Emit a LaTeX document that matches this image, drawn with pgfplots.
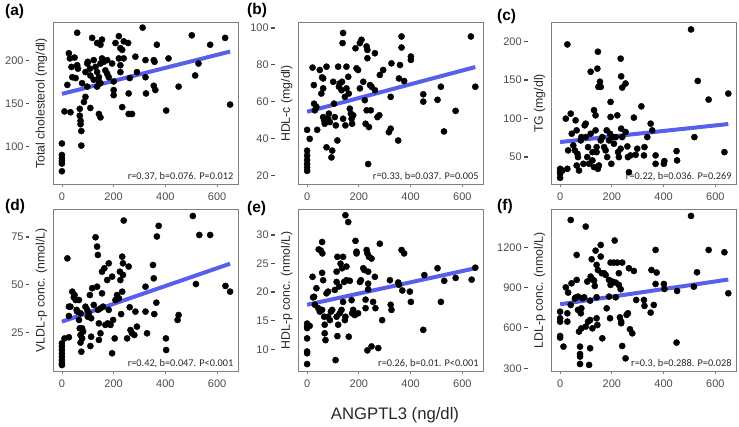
\documentclass[border=0pt]{standalone}
\usepackage{fontspec}
\setmainfont{Liberation Sans}
\newfontfamily\calib{Carlito}
\usepackage{pgfplots}
\pgfplotsset{compat=1.18}
\definecolor{boxgray}{RGB}{128,128,128}
\definecolor{ticktext}{RGB}{77,77,77}
\definecolor{labtext}{RGB}{40,40,40}
\definecolor{fitblue}{RGB}{88,96,235}
\pgfplotsset{
 panel/.style={
  scale only axis, width=185pt, height=162pt, anchor=north west,
  xmin=-32.5, xmax=682.5, xtick={0,200,400,600},
  axis line style={boxgray, line width=0.8pt},
  tick style={boxgray, line width=0.8pt},
  tick align=outside, major tick length=3pt,
  ytick style={draw=none},
  xtick pos=bottom, ytick pos=left,
  tick label style={font=\fontsize{11}{13}\selectfont, text=ticktext},
  /pgf/number format/assume math mode=true,
  /pgf/number format/set thousands separator={},
  scaled y ticks=false,
  xticklabel style={inner sep=0pt, anchor=north, yshift=-5.5pt},
  yticklabel style={inner sep=0pt, anchor=east, xshift=-21pt},
  yticklabel={\pgfmathprintnumber{\tick}\hspace{2.5pt}\rule[3.3pt]{3.3pt}{1.2pt}},
  every axis y label/.style={at={([xshift=-12pt]axis description cs:0,0.5)}, rotate=90, anchor=center, font=\fontsize{12.3}{14}\selectfont, text=labtext},
 },
 pts/.style={only marks, mark=*, mark size=3.1pt, draw=none, fill=black, mark options={draw=none, fill=black}},
 fit/.style={fitblue, line width=4pt, no marks},
}
\tikzset{
 stat/.style={anchor=south east, inner sep=0pt, xshift=-5pt, yshift=3pt, font=\calib\fontsize{10.3}{12}\selectfont, text=labtext},
 plab/.style={anchor=north west, inner sep=0pt, font=\bfseries\fontsize{15.5}{17}\selectfont},
}
\begin{document}
\begin{tikzpicture}
\path[use as bounding box] (0,0) rectangle (739pt,-427pt);
% (a)
\begin{axis}[panel, at={(53.5pt,-22.5pt)}, ymin=55.5, ymax=245, ytick={100,150,200}, ylabel={Total cholesterol (mg/dl)}]
\addplot[pts] coordinates {(0,103.5)(0,90)(0,86)(0,83)(0,80)(0,71)
(10,141)(21,172)(27,209)(31,203)(33,140)(37,193)(49,204)(59,233)(40,181)(53,180)(59,195)(62,191)(69,144)(69,136)(72,130)(72,126)(75,118)(75,101)(78,174)(85,152)(91,158)(98,170)(91,187)(98,197)(100,199)(110,183)(108,191)(117,227)(136,221)(110,145)(123,201)(130,193)(136,187)(123,178)(143,181)(136,170)(149,197)(143,176)(149,174)(155,203)(149,219)(155,225)(143,138)(149,134)(162,199)(168,189)(175,201)(175,185)(181,181)(194,197)(200,176)(200,166)(200,160)(207,221)(220,229)(220,203)(226,215)(233,213)(239,203)(226,195)(226,187)(239,223)(233,146)(258,138)(271,138)(256,221)(262,180)(258,162)(284,205)(290,187)(312,239)(323,201)(323,181)(325,162)(355,201)(367,219)(358,199)(361,166)(355,171)(403,142)(412,203)(451,170)(502,230)(528,197)(515,183)(573,219)(631,227)(650,149)};
\addplot[fit] coordinates {(0,161.5)(650,211)};
\node[stat] at (rel axis cs:1,0) {r=0.37, b=0.076. P=0.012};
\end{axis}
% (b)
\begin{axis}[panel, at={(298.7pt,-22.5pt)}, ymin=15, ymax=103, ytick={20,40,60,80,100}, ylabel={HDL-c (mg/dl)}]
\addplot[pts] coordinates {(0,44.7)(0,33.4)(0,30.7)(0,28.3)(0,26.1)(0,24.3)(0,22.4)(10,39.8)
(21,78.5)(26,69)(27,58.9)(30,55.3)(36,57.1)(39,44.7)(49,77.2)(55,64.4)(58,73.2)(62,72.6)(62,67.2)(62,51.6)(66,49.8)(68,48)
(75,79)(75,35.2)(81,50.7)(84,53.5)(88,48.9)(94,29.7)(97,33.4)(101,70.8)(104,58.9)(107,51.6)(111,47.1)(117,38.9)(120,79)(123,68.1)(126,69.9)
(133,66.2)(135,70.8)(139,97.3)(137,91.8)(139,50.7)(146,62.6)(148,47.1)(152,67.2)(152,79)(159,73.5)(161,64.4)(165,56.2)(169,53.5)(172,50.7)(174,48)(178,52.6)
(187,89)(191,78.1)(197,77.2)(204,67.2)(204,91.8)(210,93.6)(217,70.8)(223,60.8)(226,48)(230,90)(233,88.1)(233,83.6)(236,26.1)(230,55.3)(239,46.2)
(243,69)(246,55.3)(249,68.1)(262,86.3)(262,66.2)(272,51.6)(279,52.6)(281,74.5)(294,77.2)(316,43.4)(323,62.6)(326,80.8)(323,45.3)
(352,38.9)(355,72.6)(359,79.9)(365,95.4)(365,89.4)(375,71.2)(401,84.5)(401,82.7)(449,64)(449,60)(504,61)(517,68.1)(529,43.8)(574,55)(633,95.4)(650,68.1)};
\addplot[fit] coordinates {(0,54.5)(650,78.8)};
\node[stat] at (rel axis cs:1,0) {r\raisebox{1.5pt}{=}0.33, b=0.037. P=0.005};
\end{axis}
% (c)
\begin{axis}[panel, at={(551.7pt,-22.5pt)}, ymin=14.4, ymax=225, ytick={50,100,150,200}, ylabel={TG (mg/dl)}]
\addplot[pts] coordinates {(0,34.8)(0,31.7)(0,28.3)(0,23)(9,32.6)(22,100)(28,196.5)(28,34.8)(31,58.7)(41,106.5)(45,80.4)(51,65.2)(57,58.7)(60,97.8)(64,84.8)(67,54.3)(69,50)(64,39.1)(73,32.6)
(80,71.7)(82,76)(90,41.3)(99,76)(95,91.3)(99,93.5)(105,50)(112,41.3)(108,63)
(118,80.4)(118,161)(125,56.5)(125,45.7)(131,37)(131,111)(137,104.3)(137,84.8)(141,56.5)(141,63)
(144,165)(146,187)(146,34.8)(150,39.1)(148,141.3)(154,148)(157,141.3)(157,71.7)(163,76)(170,63)
(176,58.7)(180,84.8)(182,50)(189,71.7)(193,80.4)(195,121.7)(195,102.2)(198,41.3)(202,76)
(208,67.4)(215,76)(221,104.3)(224,56.5)(227,50)
(234,178)(236,155)(236,87)(240,140.4)(240,76)(234,60.9)(253,145.7)(253,82.6)(260,63.9)(262,50)(266,30.4)
(272,52.2)(285,101.3)(292,53)(298,60.9)(314,116)(324,52.2)(326,63)(337,76)(350,93.5)(356,84.8)(369,52.2)(369,41.3)(401,41.3)(403,44.8)(450,57.8)(452,45.7)
(506,216)(519,76)(532,149)(574,124.8)(635,56.5)(650,132.6)};
\addplot[fit] coordinates {(0,69.6)(650,93)};
\node[stat] at (rel axis cs:1,0) {r=0.22, b=0.036. P=0.269};
\end{axis}
% (d)
\begin{axis}[panel, at={(53.5pt,-209.5pt)}, ymin=4.4, ymax=89.6, ytick={25,50,75}, ylabel={VLDL-p conc. (nmol/L)}]
\addplot[pts] coordinates {(0,19.2)(0,17.5)(0,15.7)(0,14)(0,12.2)(0,10.4)(0,8.7)(0,7.8)
(10,21.8)(21,63.9)(27,38.5)(27,22.4)(27,33.6)(33,38.5)(40,46.4)(46,43.4)(49,44.6)(53,42)(57,36.8)(59,35.9)
(66,42)(66,31.5)(69,27.1)(72,23.6)(72,19.6)(75,14.8)(72,35)(78,27.1)(78,21.8)(82,25.4)
(91,38.5)(98,36.8)(100,33.2)(104,35)(108,44.6)(110,17.8)(113,22.7)(117,48.2)(113,32.4)
(123,39.4)(130,75)(136,70.1)(139,65.7)(136,49)(139,36.8)(143,29.7)(143,21)(149,24.5)(149,37.6)(155,45.5)(155,56.9)(159,38.5)
(164,58.7)(168,28.9)(175,52.5)(177,29.7)(181,61.3)(181,36.8)(188,28.9)(194,54.3)(198,31.5)(194,14)(204,21.8)
(207,42)(213,44.6)(220,42.9)(224,56.9)(226,52.5)(229,34.6)(233,64.8)(236,61.3)(239,83.8)(233,46.4)(236,55.2)
(252,21.8)(258,59.6)(262,38.2)(265,26.2)(271,24.5)(280,23.6)(290,28)(284,35.9)
(323,49)(323,35.9)(329,24.5)(352,60.4)(355,53.4)(357,34.6)(365,40.6)(367,75.4)(374,81)
(402,21.8)(403,15.7)(447,31.5)(451,34.1)(506,86.2)(518,50.4)(531,76.2)(573,76.2)(632,49.4)(650,46.4)};
\addplot[fit] coordinates {(0,30.6)(650,61.1)};
\node[stat] at (rel axis cs:1,0) {r=0.42, b=0.047. P<0.001};
\end{axis}
% (e)
\begin{axis}[panel, at={(298.7pt,-209.5pt)}, ymin=6.1, ymax=34.5, ytick={10,15,20,25,30}, ylabel={HDL-p conc. (nmol/L)}]
\addplot[pts] coordinates {(0,14.5)(0,14)(0,13.7)(0,11.9)(0,9.6)(0,9.3)(0,7.4)
(10,14.1)(21,22.7)(23,19.1)(27,19.2)(30,17.8)(36,20.7)(43,17.2)(45,27.5)(49,16.6)(53,27.3)
(58,28.8)(59,26.8)(58,23.4)(62,22.1)(58,16.9)(66,15.7)(68,12.8)(71,11.6)(68,14.3)(75,19.8)(81,20.1)(81,15.7)(88,15.1)(92,16.6)(97,16.9)
(107,20.4)(110,8.1)(114,23.6)(114,21.8)(114,15.7)(117,26.2)(117,12.3)(120,14.3)(124,21)(126,16.3)(129,25)(133,16.9)(135,24.2)(139,18.3)(139,26.2)(143,21.8)(146,15.1)(148,15.7)(152,24.5)(148,33.5)(159,32.3)(152,22.1)(161,12.2)(165,22)
(172,18.6)(174,16.3)(178,16.9)(184,16)(187,29)(191,27.1)(191,26.8)(197,16.3)(204,21.8)(208,22.1)
(217,24.2)(221,23.9)(226,18.7)(226,17.2)(230,27.4)(233,26.8)(233,9.8)(236,23.6)(236,21.5)(239,26.2)(236,20.5)(249,10.5)(249,25.9)(255,18.3)(262,22.7)(264,17.2)(275,10.2)(281,28.5)(290,15.1)
(320,22.1)(323,17.8)(326,16.9)(352,21.7)(355,21.3)(365,27.4)(368,20.3)(375,26.8)(397,20.1)(401,18.3)(449,13.4)(453,23)(504,24.2)(517,18.3)(530,22)(574,22.5)(636,22.2)(650,24.3)};
\addplot[fit] coordinates {(0,17.8)(650,24.2)};
\node[stat] at (rel axis cs:1,0) {r=0.26, b=0.01. P<0.001};
\end{axis}
% (f)
\begin{axis}[panel, at={(551.7pt,-209.5pt)}, ymin=276, ymax=1481, ytick={300,600,900,1200}, ylabel={LDL-p conc. (nmol/L)}]
\addplot[pts] coordinates {(0,721)(0,672)(0,647)(0,540)(0,528)
(13,461)(22,902)(28,709)(28,647)(31,863)(41,1403)(41,771)(44,932)
(57,818)(60,826)(64,1143)(64,957)(69,734)(69,833)
(73,573)(77,461)(77,406)(77,387)(77,332)(80,709)(82,597)(82,746)(86,821)
(93,828)(99,1354)(99,610)(105,945)(108,647)
(112,325)(116,803)(116,449)(116,659)(118,982)(122,1111)(125,597)(125,962)
(131,952)(134,912)(137,1175)(141,1069)(141,828)(141,672)(144,622)(146,1031)
(157,1217)(157,1131)(161,1007)(163,523)(170,1007)(176,994)(180,746)(189,833)(193,672)(189,957)
(195,920)(195,1086)(202,945)(208,1086)(211,1250)(215,937)(215,828)(221,1086)(227,1007)(227,920)(231,679)(234,888)(236,647)(240,1086)(240,466)(236,635)
(253,374)(257,697)(262,709)(266,1044)(270,590)(279,560)(285,1024)(294,808)
(324,808)(326,764)(350,714)(353,1031)(362,771)(369,1180)(373,1012)(369,927)
(401,927)(403,890)(450,491)(452,875)(506,1433)(517,907)(529,1014)(574,1180)(635,1163)(650,858)};
\addplot[fit] coordinates {(0,776)(650,960)};
\node[stat] at (rel axis cs:1,0) {r=0.3, b=0.288. P=0.028};
\end{axis}
% panel letters and common x title
\node[plab] at (5pt,-4pt) {(a)};
\node[plab] at (247pt,-3pt) {(b)};
\node[plab] at (497pt,-9pt) {(c)};
\node[plab] at (5pt,-199pt) {(d)};
\node[plab] at (247pt,-201pt) {(e)};
\node[plab] at (497pt,-199pt) {(f)};
\node[anchor=center, inner sep=0pt, font=\fontsize{16.7}{19}\selectfont, text=labtext] at (395pt,-415pt) {ANGPTL3 (ng/dl)};
\end{tikzpicture}
\end{document}
